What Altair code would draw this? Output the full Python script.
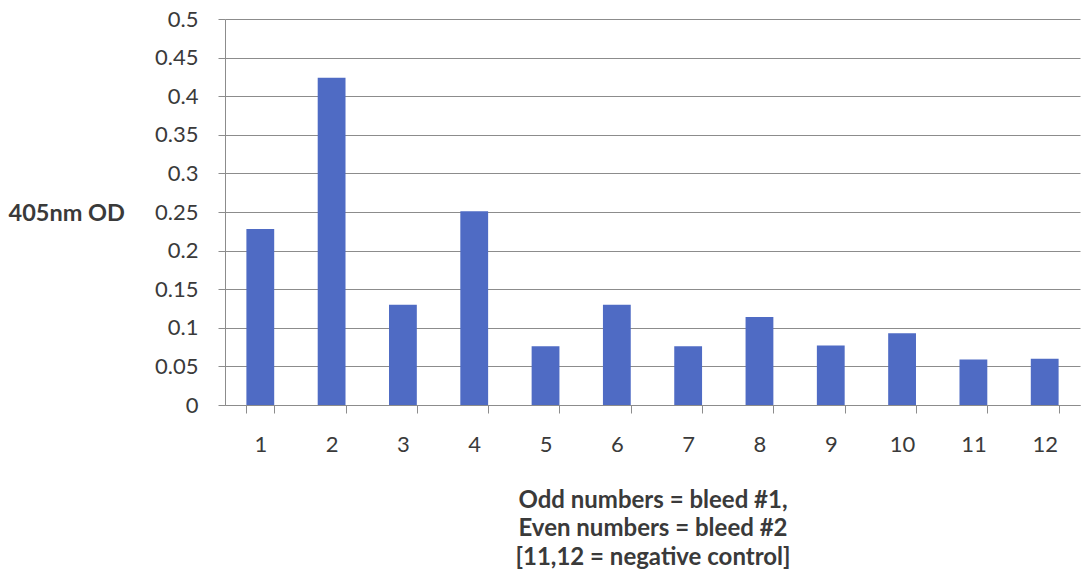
import altair as alt
import pandas as pd

samples = ["1", "2", "3", "4", "5", "6", "7", "8", "9", "10", "11", "12"]
od405 = [0.228, 0.424, 0.130, 0.251, 0.076, 0.130, 0.076, 0.114, 0.077, 0.093, 0.059, 0.060]
y_title = "405nm OD"
x_title = ["Odd numbers = bleed #1,", "Even numbers = bleed #2", "[11,12 = negative control]"]

df = pd.DataFrame({"sample": samples, "od": od405})

FONT = "Lato"
GRID = "#8c8c8c"
TXT = "#3a3a3a"

chart = alt.Chart(df).mark_bar(color="#4F6BC4").encode(
    x=alt.X("sample:N", sort=samples,
            scale=alt.Scale(paddingInner=0.61, paddingOuter=0.3),
            axis=alt.Axis(title=x_title, labelAngle=0, labelFont=FONT, labelFontSize=22,
                          labelColor=TXT, labelPadding=21, tickSize=8, tickColor=GRID,
                          domainColor=GRID, bandPosition=0, tickBand="extent",
                          titleFont=FONT, titleFontSize=24, titleFontWeight="bold",
                          titleColor=TXT, titleLineHeight=28.5, titlePadding=33)),
    y=alt.Y("od:Q", scale=alt.Scale(domain=[0, 0.5], nice=False),
            axis=alt.Axis(title=y_title, values=[i * 0.05 for i in range(11)],
                          format="~g", labelFont=FONT, labelFontSize=22, labelColor=TXT,
                          labelPadding=20, tickSize=7, tickColor=GRID, domainColor=GRID,
                          gridColor=GRID, gridWidth=1,
                          titleAngle=0, titleAlign="left", titleBaseline="middle",
                          titleX=-217, titleY=194, titleFont=FONT, titleFontSize=23.5,
                          titleFontWeight="bold", titleColor=TXT)),
).properties(
    width=855, height=386,
    autosize=alt.AutoSizeParams(type="none"),
    padding={"left": 225, "top": 19, "right": 4, "bottom": 177},
).configure_view(stroke=None).configure_axisX(grid=False)

chart.save("out.html", embed_options={"renderer": "svg", "actions": False})
